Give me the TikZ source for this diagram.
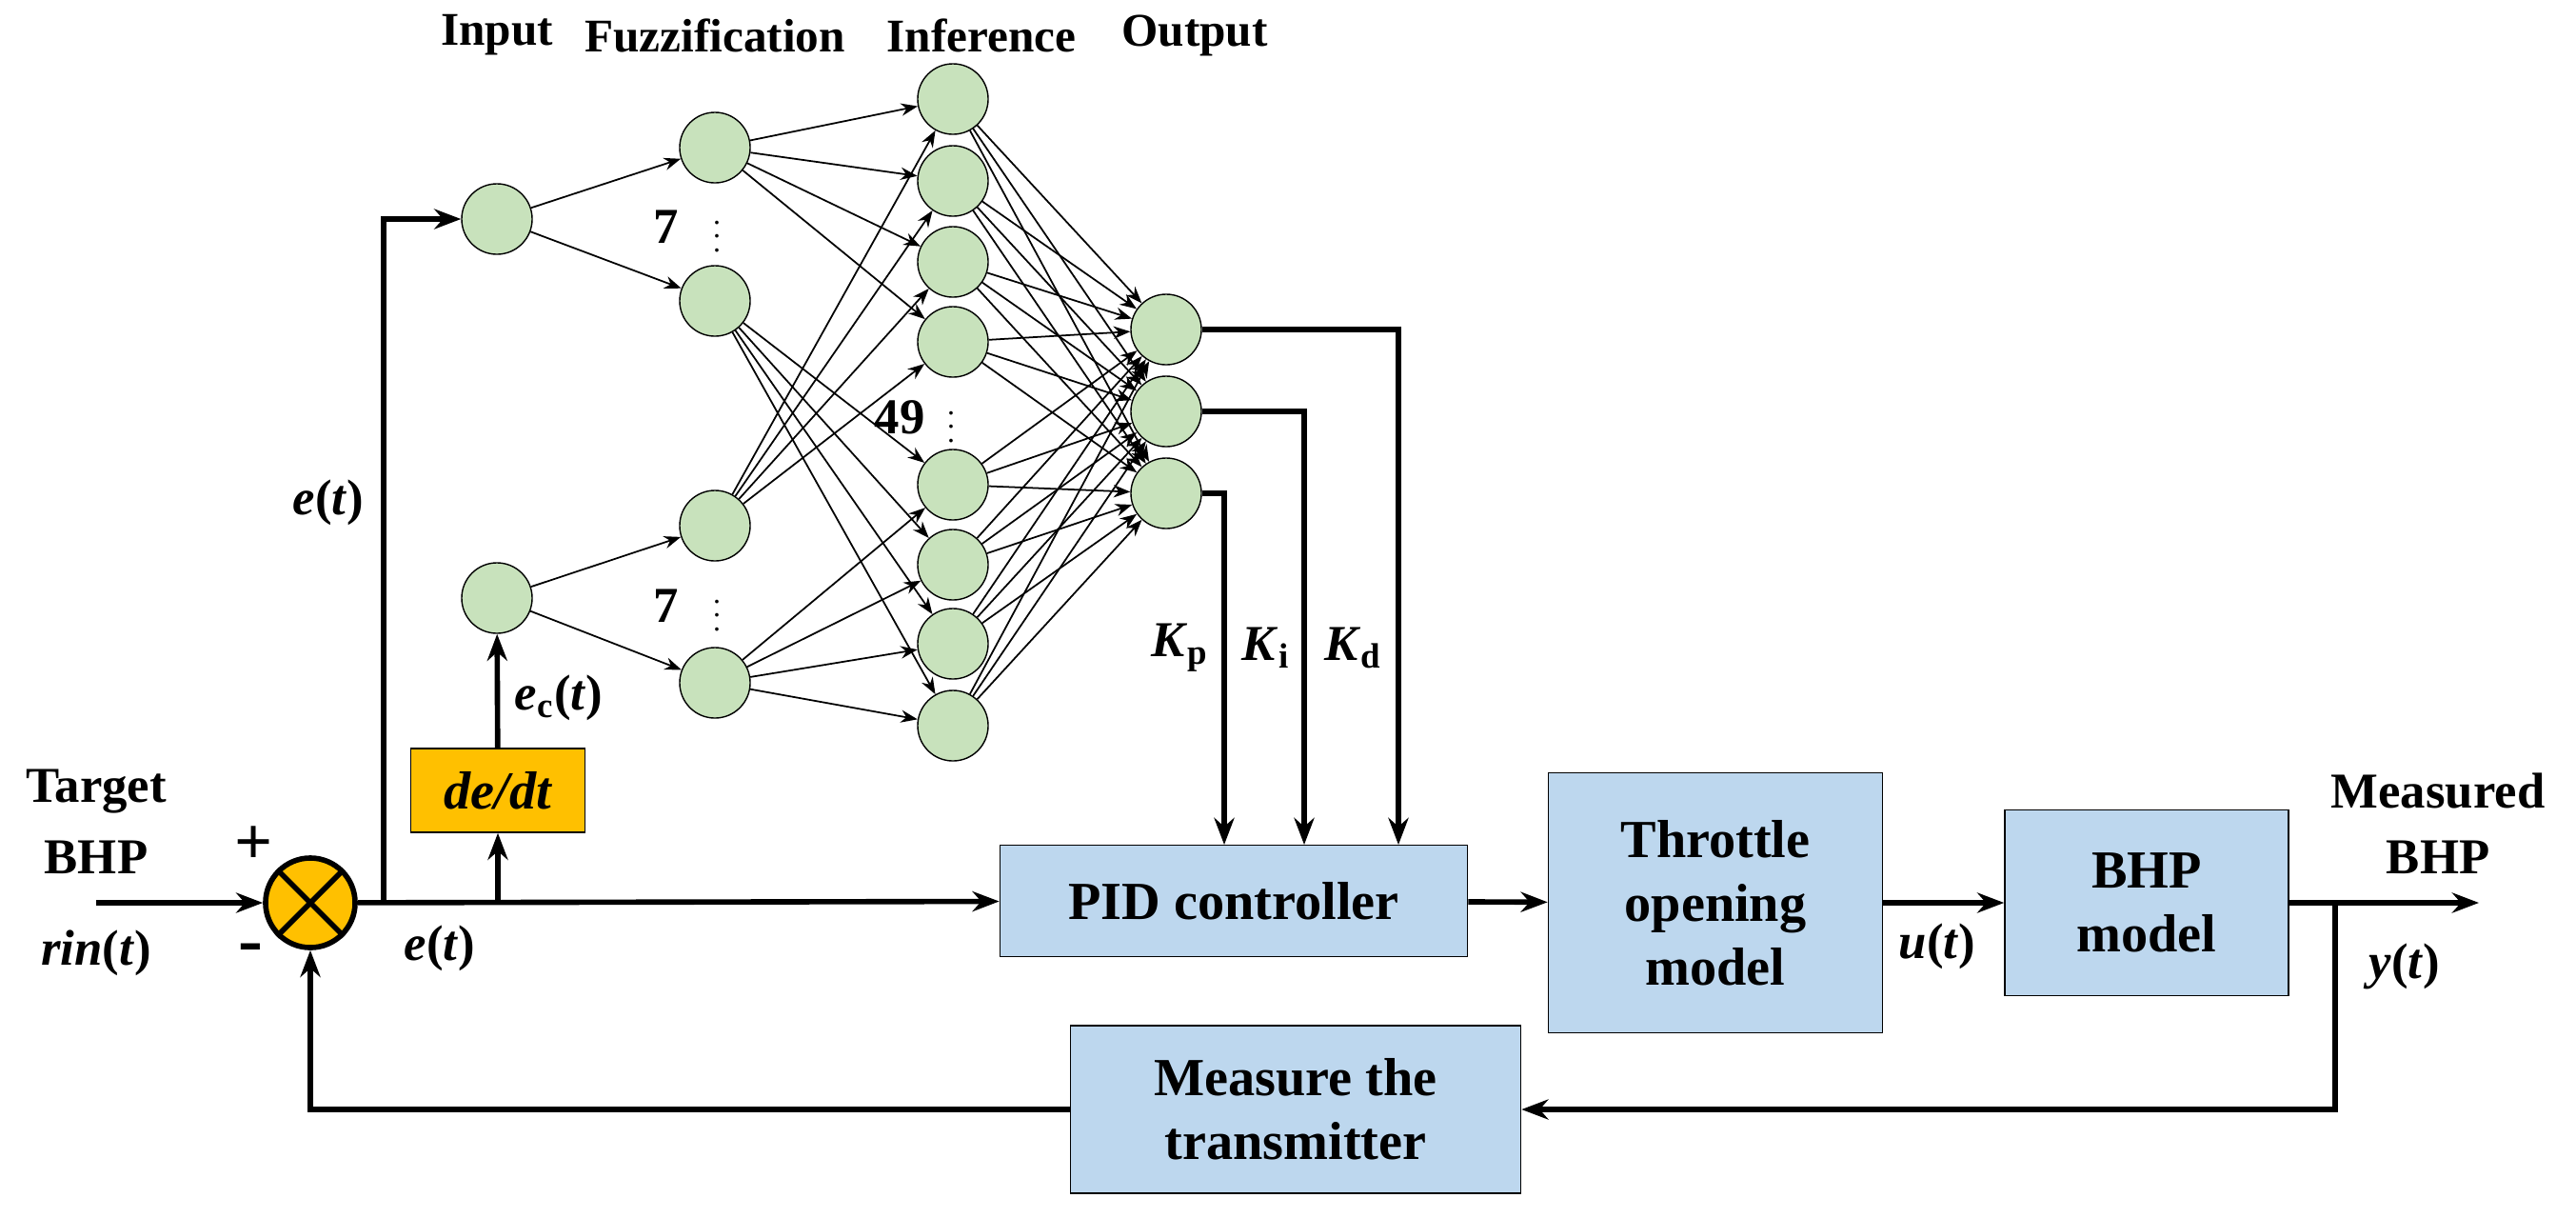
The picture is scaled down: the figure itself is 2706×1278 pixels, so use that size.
\documentclass[tikz,border=0pt]{standalone}
\usepackage{fontspec}
\setmainfont{Liberation Serif}
\usetikzlibrary{arrows.meta}
\definecolor{cellgreen}{RGB}{200,226,188}
\definecolor{boxblue}{RGB}{189,215,238}
\definecolor{sumorange}{RGB}{255,192,0}
\newcommand{\bfit}[1]{\textit{#1}}
\tikzset{
  neuron/.style={circle,draw,fill=cellgreen,minimum size=0.74cm,inner sep=0pt},
  block/.style={draw,fill=boxblue,font=\fontsize{16}{19}\selectfont\bfseries,align=center,inner sep=0pt},
  lbl/.style={font=\fontsize{15}{18}\selectfont\bfseries},
  head/.style={font=\fontsize{14}{16}\selectfont\bfseries},
  dots/.style={font=\fontsize{9}{10}\selectfont,inner sep=0pt},
  thin/.style={-{Stealth[length=5pt]},line width=0.5pt},
  thick/.style={-{Stealth[length=8pt]},line width=1.6pt}
}
\begin{document}
\begin{tikzpicture}[x=0.01cm,y=-0.01cm]
  \useasboundingbox (0,0) rectangle (2706,1278);
  % headers
  \path (522,37) node[head] {Input};
  \path (751,37) node[head] {Fuzzification};
  \path (1031,37) node[head] {Inference};
  \path (1255,37) node[head] {Output};
  % fuzzy network
  \node[neuron] (in1) at (522,230) {};
  \node[neuron] (in2) at (522,628) {};
  \node[neuron] (fz1) at (751,155) {};
  \node[neuron] (fz2) at (751,316) {};
  \node[neuron] (fz3) at (751,552) {};
  \node[neuron] (fz4) at (751,717) {};
  \foreach \i/\y in {1/104,2/190,3/275,4/359,5/509,6/593,7/676,8/762}
    \node[neuron] (inf\i) at (1001,\y) {};
  \node[neuron] (out1) at (1225,346) {};
  \node[neuron] (out2) at (1225,432) {};
  \node[neuron] (out3) at (1225,518) {};
  \draw[thin] (in1) -- (fz1); \draw[thin] (in1) -- (fz2);
  \draw[thin] (in2) -- (fz3); \draw[thin] (in2) -- (fz4);
  \foreach \i in {1,...,4} {
    \draw[thin] (fz1) -- (inf\i);
    \draw[thin] (fz3) -- (inf\i);
  }
  \foreach \i in {5,...,8} {
    \draw[thin] (fz2) -- (inf\i);
    \draw[thin] (fz4) -- (inf\i);
  }
  \foreach \i in {1,...,8}
    \foreach \o in {1,2,3}
      \draw[thin] (inf\i) -- (out\o);
  \path (700,238) node[lbl] {7} (753,238) node[dots] {$\vdots$};
  \path (700,636) node[lbl] {7} (753,636) node[dots] {$\vdots$};
  \path (945,438) node[lbl] {49} (999,438) node[dots] {$\vdots$};
  % control loop
  \node[circle,draw,line width=1.6pt,fill=sumorange,minimum size=0.94cm,inner sep=0pt] (sum) at (326,948) {};
  \draw[line width=1.6pt] (sum.north west) -- (sum.south east) (sum.north east) -- (sum.south west);
  \node[draw,fill=sumorange,minimum width=1.83cm,minimum height=0.88cm,font=\fontsize{16}{19}\selectfont\bfseries\itshape] (ddt) at (523,830) {de/dt};
  \node[block,minimum width=4.91cm,minimum height=1.17cm] (pid) at (1296,946) {PID controller};
  \node[block,minimum width=3.51cm,minimum height=2.73cm] (thr) at (1802,948) {Throttle\\opening\\model};
  \node[block,minimum width=2.98cm,minimum height=1.95cm] (bhp) at (2255,948) {BHP\\model};
  \node[block,minimum width=4.73cm,minimum height=1.76cm] (meas) at (1361,1165) {Measure the\\transmitter};
  \coordinate (start) at (101,948);
  \coordinate (split) at (403,948);
  \coordinate (dsplit) at (523,948);
  \coordinate (tap) at (2453,948);
  \coordinate (end) at (2604,948);
  \draw[thick] (start) -- (sum);
  \draw[thick] (sum) -- (pid);
  \draw[thick] (split) |- (in1);
  \draw[thick] (dsplit) -- (ddt);
  \draw[thick] (ddt) -- (in2);
  \draw[thick] (out3.east) -| (1286,887);
  \draw[thick] (out2.east) -| (1370,887);
  \draw[thick] (out1.east) -| (1469,887);
  \draw[thick] (pid) -- (thr);
  \draw[thick] (thr) -- (bhp);
  \draw[thick] (bhp) -- (end);
  \draw[thick] (tap) |- (meas);
  \draw[thick] (meas) -| (sum);
  % labels
  \path (101,831) node[lbl] {Target} (101,900) node[lbl] {BHP};
  \path (101,1001) node[lbl] {\bfit{rin}(\bfit{t})};
  \path (267,888) node[lbl,font=\fontsize{20}{22}\selectfont\bfseries] {+} (263,1002) node[lbl,font=\fontsize{22}{24}\selectfont\bfseries] {-};
  \path (345,528) node[lbl] {\bfit{e}(\bfit{t})};
  \path (462,996) node[lbl] {\bfit{e}(\bfit{t})};
  \path (587,733) node[lbl] {\bfit{e}\textsubscript{c}(\bfit{t})};
  \path (1240,680) node[lbl] {\bfit{K}\textsubscript{p}};
  \path (1330,680) node[lbl] {\bfit{K}\textsubscript{i}};
  \path (1422,680) node[lbl] {\bfit{K}\textsubscript{d}};
  \path (2035,994) node[lbl] {\bfit{u}(\bfit{t})};
  \path (2526,1015) node[lbl] {\bfit{y}(\bfit{t})};
  \path (2561,831) node[lbl] {Measured} (2561,900) node[lbl] {BHP};
\end{tikzpicture}
\end{document}
